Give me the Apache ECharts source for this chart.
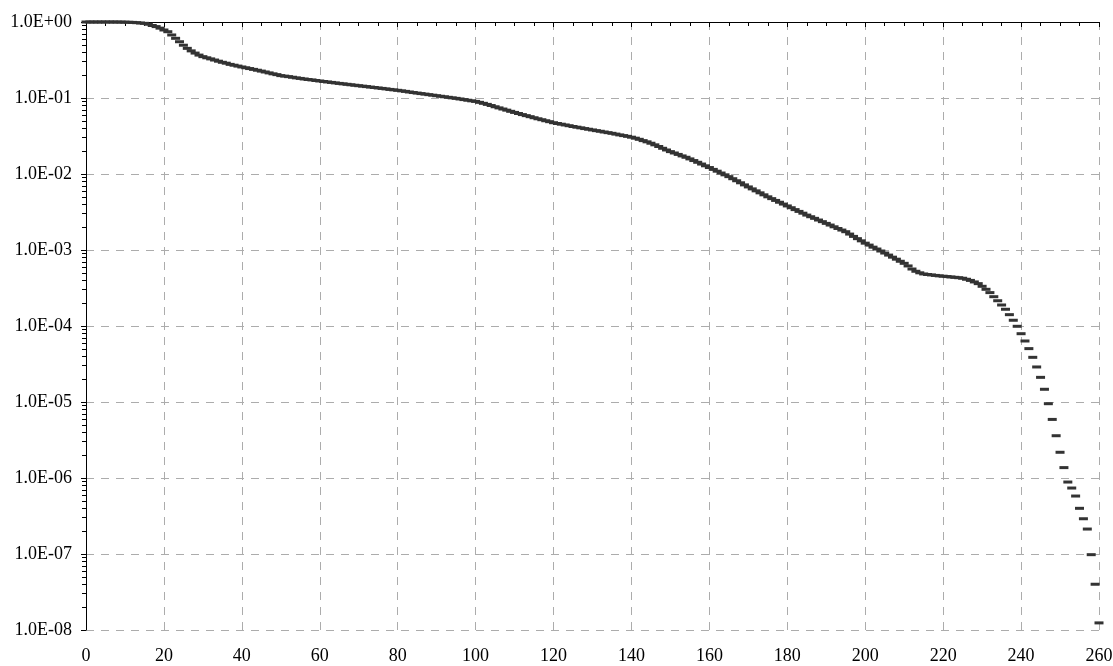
<!DOCTYPE html>
<html>
<head>
<meta charset="utf-8">
<script src="https://cdn.jsdelivr.net/npm/echarts@6.0.0/dist/echarts.min.js"></script>
<style>
  html, body { margin: 0; padding: 0; background: #fff; }
  #chart { width: 1113px; height: 666px; }
</style>
</head>
<body>
<div id="chart"></div>
<script>
// x runs 0..260 in steps of 1, one value per step
const xStart = 0;
const xStep = 1;
const xTicks = [0, 20, 40, 60, 80, 100, 120, 140, 160, 180, 200, 220, 240, 260];
const yTicks = [1e-8, 1e-7, 1e-6, 1e-5, 1e-4, 1e-3, 1e-2, 1e-1, 1];

// values, index 0 = x 0
const values = [
  1.0, 1.0, 1.0, 1.0, 1.0, 1.0, 1.0, 1.0, 0.999, 0.998,
  0.995, 0.992, 0.988, 0.98, 0.97, 0.96, 0.935, 0.90, 0.87, 0.83,
  0.785, 0.745, 0.675, 0.61, 0.55, 0.495, 0.45, 0.417, 0.39, 0.367,
  0.35, 0.338, 0.327, 0.316, 0.305, 0.295, 0.287, 0.277, 0.27, 0.263,
  0.256, 0.25, 0.244, 0.238, 0.232, 0.226, 0.220, 0.214, 0.208, 0.203,
  0.197, 0.194, 0.191, 0.1875, 0.184, 0.181, 0.178, 0.175, 0.173, 0.170,
  0.1675, 0.165, 0.1626, 0.1603, 0.158, 0.1556, 0.1535, 0.1514, 0.1493, 0.1472,
  0.1452, 0.1432, 0.1413, 0.1393, 0.1374, 0.1355, 0.1337, 0.1318, 0.1297, 0.128,
  0.1262, 0.1242, 0.1222, 0.120, 0.118, 0.1161, 0.1143, 0.1125, 0.1107, 0.1089,
  0.1072, 0.1054, 0.1038, 0.1021, 0.1005, 0.0989, 0.0971, 0.0953, 0.0935, 0.0918,
  0.0902, 0.0877, 0.0851, 0.0824, 0.0796, 0.0767, 0.0741, 0.0716, 0.0692, 0.0668,
  0.0646, 0.0625, 0.0605, 0.0586, 0.0568, 0.0550, 0.0533, 0.0518, 0.0502, 0.0488,
  0.0473, 0.0462, 0.0452, 0.0442, 0.0432, 0.0422, 0.0413, 0.0405, 0.0396, 0.0388,
  0.0380, 0.0372, 0.0365, 0.0357, 0.0350, 0.0343, 0.0335, 0.0327, 0.0320, 0.0313,
  0.0305, 0.0296, 0.0286, 0.0275, 0.0265, 0.0254, 0.0242, 0.0230, 0.0218, 0.0207,
  0.0197, 0.0189, 0.0181, 0.0173, 0.0166, 0.0158, 0.01503, 0.01426, 0.01352, 0.01282,
  0.01216, 0.0115, 0.01089, 0.0103, 0.00975, 0.00923, 0.00867, 0.00815, 0.00766, 0.00719,
  0.00676, 0.00637, 0.0060, 0.00565, 0.00532, 0.00501, 0.00474, 0.00449, 0.00425, 0.00402,
  0.0038, 0.0036, 0.0034, 0.00322, 0.00305, 0.00288, 0.00274, 0.00261, 0.00248, 0.00236,
  0.00224, 0.00213, 0.00202, 0.00192, 0.00183, 0.00174, 0.00162, 0.00151, 0.00141, 0.00132,
  0.00123, 0.00116, 0.00109, 0.00103, 0.00097, 0.000912, 0.000857, 0.000805, 0.000757, 0.000711,
  0.000668, 0.000617, 0.000562, 0.000525, 0.000501, 0.000484, 0.000476, 0.00047, 0.000463, 0.000457,
  0.000452, 0.000447, 0.000442, 0.000437, 0.000432, 0.000425, 0.000412, 0.000398, 0.00038, 0.000361,
  0.000333, 0.000304, 0.000275, 0.000243, 0.000215, 0.000189, 0.000166, 0.000141, 0.000119, 0.0000991,
  7.92e-5, 6.35e-5, 5.04e-5, 3.87e-5, 2.89e-5, 2.11e-5, 1.47e-5, 9.5e-6, 5.9e-6, 3.6e-6,
  2.18e-6, 1.37e-6, 8.85e-7, 7.38e-7, 5.79e-7, 3.99e-7, 2.91e-7, 2.13e-7, 9.8e-8, 4.0e-8,
  1.24e-8
];

const points = values.map((v, i) => [xStart + i * xStep, v]);

// minor ticks of the log axis (2..9 in each decade), placed on a linear helper axis in log units
const minorLogTicks = [];
for (let k = -8; k < 0; k++) {
  for (let m = 2; m <= 9; m++) minorLogTicks.push(k + Math.log10(m));
}

const fontFamily = '"Liberation Serif", "Times New Roman", serif';
const dashed = { color: '#acacac', type: [8, 7], width: 1 };

function expLabel(v) {
  const e = Math.round(Math.log10(v));
  const s = e < 0 ? '-' : '+';
  const n = Math.abs(e);
  return '1.0E' + s + (n < 10 ? '0' : '') + n;
}

const chart = echarts.init(document.getElementById('chart'), null, { renderer: 'canvas' });
chart.setOption({
  animation: false,
  backgroundColor: '#fff',
  grid: { left: 86, right: 14, top: 22, bottom: 36, containLabel: false, outerBoundsMode: 'none' },
  xAxis: {
    type: 'value',
    min: xTicks[0],
    max: xTicks[xTicks.length - 1],
    interval: 20,
    axisLine: { lineStyle: { color: '#000', width: 1 } },
    axisTick: { length: 5, lineStyle: { color: '#000' } },
    minorTick: { show: true, splitNumber: 4, length: 4, lineStyle: { color: '#000' } },
    axisLabel: { color: '#000', fontFamily: fontFamily, fontSize: 18, margin: 17 },
    splitLine: { show: true, lineStyle: dashed }
  },
  yAxis: [
    {
      type: 'log',
      logBase: 10,
      min: yTicks[0],
      max: yTicks[yTicks.length - 1],
      interval: 1,
      splitNumber: 8,
      axisLine: { show: true, lineStyle: { color: '#000', width: 1 } },
      axisTick: { show: true, length: 5, lineStyle: { color: '#000' } },
      axisLabel: { color: '#000', fontFamily: fontFamily, fontSize: 18, margin: 14, formatter: expLabel },
      splitLine: { show: true, lineStyle: dashed }
    },
    {
      type: 'value',
      min: -8,
      max: 0,
      position: 'left',
      offset: 0,
      axisLine: { show: false },
      axisLabel: { show: false },
      splitLine: { show: false },
      axisTick: { show: true, length: 4, customValues: minorLogTicks, lineStyle: { color: '#000' } }
    }
  ],
  series: [
    {
      type: 'scatter',
      yAxisIndex: 0,
      data: points,
      symbol: 'rect',
      symbolSize: [9, 3],
      itemStyle: { color: '#333333', opacity: 1 },
      silent: true
    }
  ]
});
</script>
</body>
</html>
